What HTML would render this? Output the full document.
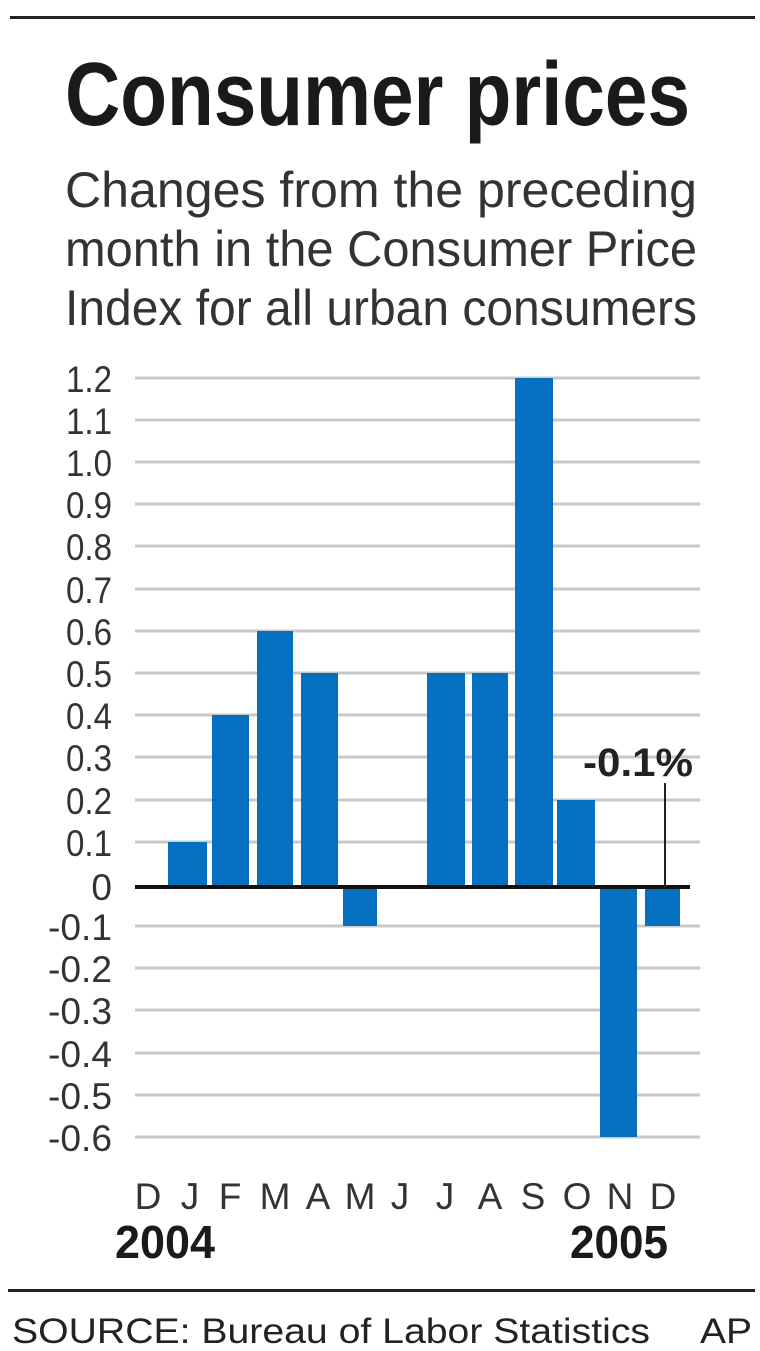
<!DOCTYPE html>
<html><head><style>body{margin:0;background:#fff}svg{display:block}</style></head>
<body>
<svg width="760" height="1351" xmlns="http://www.w3.org/2000/svg" font-family="Liberation Sans, Arial, sans-serif">
<rect width="760" height="1351" fill="#fff"/>
<rect x="10" y="16" width="745" height="3" fill="#222"/>
<text x="65" y="125" font-size="90" font-weight="bold" fill="#1a1a1a" textLength="625" lengthAdjust="spacingAndGlyphs">Consumer prices</text>
<g font-size="50" fill="#333">
<text x="65" y="207" textLength="632" lengthAdjust="spacingAndGlyphs">Changes from the preceding</text>
<text x="65" y="266" textLength="632" lengthAdjust="spacingAndGlyphs">month in the Consumer Price</text>
<text x="65" y="325" textLength="632" lengthAdjust="spacingAndGlyphs">Index for all urban consumers</text>
</g>
<g stroke="#c8c8c8" stroke-width="3">
<line x1="135" x2="700" y1="378" y2="378"/><line x1="135" x2="700" y1="420" y2="420"/><line x1="135" x2="700" y1="462" y2="462"/><line x1="135" x2="700" y1="504" y2="504"/><line x1="135" x2="700" y1="546" y2="546"/><line x1="135" x2="700" y1="589" y2="589"/><line x1="135" x2="700" y1="631" y2="631"/><line x1="135" x2="700" y1="673" y2="673"/><line x1="135" x2="700" y1="715" y2="715"/><line x1="135" x2="700" y1="757" y2="757"/><line x1="135" x2="700" y1="800" y2="800"/><line x1="135" x2="700" y1="842" y2="842"/><line x1="135" x2="700" y1="926" y2="926"/><line x1="135" x2="700" y1="968" y2="968"/><line x1="135" x2="700" y1="1010" y2="1010"/><line x1="135" x2="700" y1="1053" y2="1053"/><line x1="135" x2="700" y1="1095" y2="1095"/><line x1="135" x2="700" y1="1137" y2="1137"/>
</g>
<g font-size="37" fill="#333" text-anchor="end">
<text x="112" y="392" textLength="46" lengthAdjust="spacingAndGlyphs">1.2</text><text x="112" y="434" textLength="46" lengthAdjust="spacingAndGlyphs">1.1</text><text x="112" y="476" textLength="46" lengthAdjust="spacingAndGlyphs">1.0</text><text x="112" y="518" textLength="46" lengthAdjust="spacingAndGlyphs">0.9</text><text x="112" y="560" textLength="46" lengthAdjust="spacingAndGlyphs">0.8</text><text x="112" y="603" textLength="46" lengthAdjust="spacingAndGlyphs">0.7</text><text x="112" y="645" textLength="46" lengthAdjust="spacingAndGlyphs">0.6</text><text x="112" y="687" textLength="46" lengthAdjust="spacingAndGlyphs">0.5</text><text x="112" y="729" textLength="46" lengthAdjust="spacingAndGlyphs">0.4</text><text x="112" y="771" textLength="46" lengthAdjust="spacingAndGlyphs">0.3</text><text x="112" y="814" textLength="46" lengthAdjust="spacingAndGlyphs">0.2</text><text x="112" y="856" textLength="46" lengthAdjust="spacingAndGlyphs">0.1</text><text x="112" y="900">0</text><text x="112" y="940" textLength="64" lengthAdjust="spacingAndGlyphs">-0.1</text><text x="112" y="982" textLength="64" lengthAdjust="spacingAndGlyphs">-0.2</text><text x="112" y="1024" textLength="64" lengthAdjust="spacingAndGlyphs">-0.3</text><text x="112" y="1067" textLength="64" lengthAdjust="spacingAndGlyphs">-0.4</text><text x="112" y="1109" textLength="64" lengthAdjust="spacingAndGlyphs">-0.5</text><text x="112" y="1151" textLength="64" lengthAdjust="spacingAndGlyphs">-0.6</text>
</g>
<g fill="#0570c0">
<rect x="168" y="842" width="39" height="45"/>
<rect x="212" y="715" width="37" height="172"/>
<rect x="257" y="631" width="36" height="256"/>
<rect x="301" y="673" width="37" height="214"/>
<rect x="343" y="887" width="34" height="39"/>
<rect x="427" y="673" width="38" height="214"/>
<rect x="472" y="673" width="36" height="214"/>
<rect x="515" y="378" width="38" height="509"/>
<rect x="557" y="800" width="38" height="87"/>
<rect x="600" y="887" width="37" height="250"/>
<rect x="645" y="887" width="35" height="39"/>
</g>
<rect x="135" y="885" width="555" height="4" fill="#111"/>
<line x1="665" y1="783" x2="665" y2="887" stroke="#222" stroke-width="2"/>
<text x="583" y="776" font-size="40" font-weight="bold" fill="#222" textLength="110" lengthAdjust="spacingAndGlyphs">-0.1%</text>
<g font-size="37" fill="#333" text-anchor="middle">
<text x="148" y="1209">D</text><text x="190" y="1209">J</text><text x="230" y="1209">F</text><text x="275" y="1209">M</text><text x="318" y="1209">A</text><text x="360" y="1209">M</text><text x="400" y="1209">J</text><text x="445" y="1209">J</text><text x="490" y="1209">A</text><text x="533" y="1209">S</text><text x="577" y="1209">O</text><text x="620" y="1209">N</text><text x="663" y="1209">D</text>
</g>
<text x="115" y="1258" font-size="46" font-weight="bold" fill="#1a1a1a" textLength="100" lengthAdjust="spacingAndGlyphs">2004</text>
<text x="570" y="1258" font-size="46" font-weight="bold" fill="#1a1a1a" textLength="98" lengthAdjust="spacingAndGlyphs">2005</text>
<rect x="8" y="1289" width="747" height="3" fill="#222"/>
<text x="12" y="1343" font-size="35" fill="#222" textLength="638" lengthAdjust="spacingAndGlyphs">SOURCE: Bureau of Labor Statistics</text>
<text x="700" y="1343" font-size="35" fill="#222" textLength="52" lengthAdjust="spacingAndGlyphs">AP</text>
</svg>
</body></html>
